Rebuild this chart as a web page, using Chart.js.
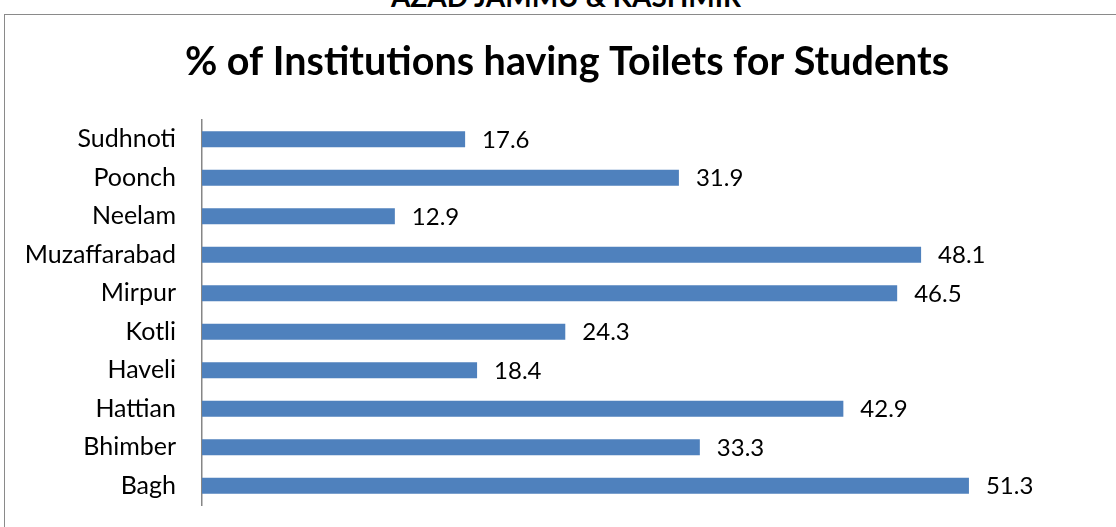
<!DOCTYPE html>
<html>
<head>
<meta charset="utf-8">
<script src="https://cdn.jsdelivr.net/npm/chart.js@4.4.1/dist/chart.umd.min.js"></script>
<style>
  html, body { margin: 0; padding: 0; background: #fff; overflow: hidden; width: 1116px; height: 527px; }
  #top { position: absolute; left: 0; width: 1132px; top: -21px; line-height: 28px; text-align: center;
         font: bold 28px Lato, "Open Sans", sans-serif; color: #000; }
  #box { position: absolute; left: 4px; top: 14px; width: 1124px; height: 530px;
         border: 1px solid #8a8a8a; box-sizing: border-box; }
  #wrap { position: absolute; left: 1px; top: 1px; width: 1122px; height: 512px; }
</style>
</head>
<body>
<div id="top">AZAD JAMMU &amp; KASHMIR</div>
<div id="box"><div id="wrap"><canvas id="c"></canvas></div></div>
<script>
// % of institutions having toilets for students, by district
const districts = ['Bagh', 'Bhimber', 'Hattian', 'Haveli', 'Kotli', 'Mirpur', 'Muzaffarabad', 'Neelam', 'Poonch', 'Sudhnoti'];
const toiletPct = [51.3, 33.3, 42.9, 18.4, 24.3, 46.5, 48.1, 12.9, 31.9, 17.6];
const chartTitle = '% of Institutions having Toilets for Students';
const xMax = 60;

const FONT = 'Lato, "Open Sans", sans-serif';

// title centred on the whole frame (the built-in title follows layout padding)
const frameTitle = {
    id: 'frameTitle',
    afterDraw(chart) {
        const ctx = chart.ctx;
        ctx.save();
        ctx.font = 'bold 39.5px ' + FONT;
        ctx.fillStyle = '#000';
        ctx.textAlign = 'center';
        ctx.textBaseline = 'middle';
        ctx.fillText(chartTitle, chart.width / 2, 46);
        ctx.restore();
    }
};

// labels just past the end of each bar
const valueLabels = {
    id: 'valueLabels',
    afterDatasetsDraw(chart) {
        const ctx = chart.ctx;
        const meta = chart.getDatasetMeta(0);
        ctx.save();
        ctx.font = '24px ' + FONT;
        ctx.fillStyle = '#000';
        ctx.textAlign = 'left';
        ctx.textBaseline = 'middle';
        meta.data.forEach((bar, i) => {
            ctx.fillText(toiletPct[i].toFixed(1), bar.x + 17, bar.y + 1);
        });
        ctx.restore();
    }
};

new Chart(document.getElementById('c'), {
    type: 'bar',
    data: {
        labels: districts,
        datasets: [{
            data: toiletPct,
            backgroundColor: '#4F81BD',
            borderWidth: 0,
            barPercentage: 0.42,
            categoryPercentage: 1
        }]
    },
    plugins: [frameTitle, valueLabels],
    options: {
        indexAxis: 'y',
        animation: false,
        responsive: true,
        maintainAspectRatio: false,
        layout: { padding: { left: 0, right: 29, top: 104, bottom: 23 } },
        plugins: {
            legend: { display: false },
            tooltip: { enabled: false },
            title: { display: false }
        },
        scales: {
            x: {
                display: false,
                min: 0,
                max: xMax
            },
            y: {
                reverse: true,
                grid: { display: false, drawTicks: false },
                border: { display: true, color: '#868686', width: 1.5 },
                ticks: {
                    color: '#000',
                    padding: 26,
                    font: { family: FONT, size: 25 }
                },
                afterFit(scale) {
                    scale.width = 196;
                    scale.paddingTop = 0;
                    scale.paddingBottom = 0;
                }
            }
        }
    }
});
</script>
</body>
</html>
